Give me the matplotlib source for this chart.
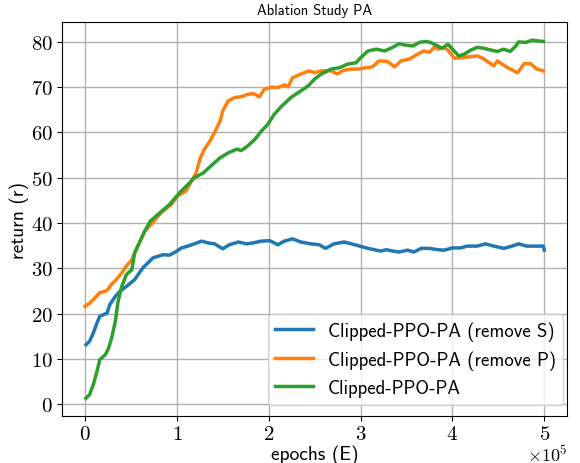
import matplotlib
matplotlib.use("Agg")
import matplotlib.pyplot as plt
import matplotlib.transforms as mtransforms
import numpy as np

# epochs in units of 1e5, returns
x_s = [0.01, 0.05, 0.09, 0.13, 0.16, 0.24, 0.27, 0.33, 0.38, 0.45, 0.54, 0.63, 0.74,
       0.85, 0.92, 1.00, 1.05, 1.12, 1.19, 1.27, 1.34, 1.41, 1.50, 1.57, 1.67, 1.76,
       1.83, 1.92, 2.01, 2.10, 2.17, 2.26, 2.35, 2.46, 2.55, 2.62, 2.71, 2.82, 2.90,
       2.99, 3.08, 3.15, 3.22, 3.28, 3.35, 3.42, 3.51, 3.58, 3.66, 3.75, 3.84, 3.91,
       4.00, 4.09, 4.16, 4.27, 4.36, 4.45, 4.56, 4.65, 4.72, 4.81, 4.92, 4.99, 5.00]
y_s = [13.1, 13.9, 15.7, 17.9, 19.4, 20.1, 22.0, 23.8, 24.9, 26.0, 27.5, 30.1, 32.3,
       33.0, 32.9, 33.8, 34.5, 34.9, 35.4, 36.0, 35.6, 35.4, 34.3, 35.2, 35.8, 35.4,
       35.6, 36.0, 36.1, 35.2, 36.0, 36.5, 35.8, 35.4, 35.2, 34.4, 35.4, 35.8, 35.4,
       34.9, 34.4, 34.1, 33.8, 34.1, 33.8, 33.6, 34.0, 33.6, 34.4, 34.4, 34.1, 34.0,
       34.5, 34.5, 34.9, 34.9, 35.4, 34.9, 34.4, 34.9, 35.4, 34.9, 34.9, 34.9, 34.0]

x_p = [0.00, 0.05, 0.11, 0.16, 0.24, 0.29, 0.34, 0.40, 0.45, 0.51, 0.54, 0.60, 0.65,
       0.72, 0.83, 0.94, 1.01, 1.10, 1.16, 1.21, 1.25, 1.30, 1.36, 1.41, 1.47, 1.50,
       1.56, 1.63, 1.70, 1.77, 1.83, 1.90, 1.95, 2.03, 2.10, 2.17, 2.21, 2.26, 2.35,
       2.44, 2.50, 2.57, 2.68, 2.75, 2.81, 2.90, 2.97, 3.06, 3.13, 3.20, 3.29, 3.37,
       3.44, 3.53, 3.62, 3.69, 3.75, 3.80, 3.85, 3.91, 3.96, 4.02, 4.09, 4.18, 4.27,
       4.33, 4.40, 4.45, 4.49, 4.54, 4.61, 4.71, 4.78, 4.85, 4.92, 4.99]
y_p = [21.6, 22.3, 23.5, 24.6, 25.1, 26.5, 27.5, 29.0, 30.5, 31.9, 33.4, 36.0, 38.2,
       39.7, 42.3, 44.1, 46.0, 47.1, 49.3, 51.1, 54.1, 56.3, 58.1, 60.0, 62.5, 64.8,
       67.0, 67.7, 67.9, 68.4, 68.6, 67.9, 69.5, 70.0, 69.9, 70.5, 70.1, 72.1, 72.9,
       73.6, 73.2, 73.6, 73.6, 72.9, 73.7, 74.0, 74.0, 74.3, 74.5, 75.8, 75.7, 74.5,
       75.8, 76.2, 77.3, 78.0, 77.7, 78.8, 78.4, 78.8, 78.0, 76.4, 76.5, 76.7, 76.9,
       76.4, 75.4, 74.7, 75.8, 75.1, 74.2, 73.2, 75.2, 75.2, 74.0, 73.6]

x_full = [0.01, 0.05, 0.09, 0.13, 0.16, 0.22, 0.25, 0.29, 0.33, 0.36, 0.40, 0.45, 0.51,
          0.54, 0.60, 0.65, 0.71, 0.80, 0.92, 1.03, 1.12, 1.19, 1.29, 1.38, 1.47, 1.56,
          1.65, 1.70, 1.77, 1.85, 1.92, 1.99, 2.06, 2.14, 2.24, 2.35, 2.43, 2.50, 2.57,
          2.68, 2.77, 2.86, 2.95, 3.00, 3.08, 3.17, 3.26, 3.35, 3.42, 3.49, 3.57, 3.64,
          3.71, 3.76, 3.84, 3.89, 3.95, 4.00, 4.07, 4.13, 4.20, 4.27, 4.34, 4.42, 4.49,
          4.56, 4.63, 4.69, 4.72, 4.80, 4.87, 4.94, 4.99]
y_full = [1.3, 2.1, 4.3, 7.2, 9.8, 10.9, 12.0, 14.6, 18.3, 22.7, 26.0, 28.6, 29.7,
          33.4, 36.0, 38.2, 40.4, 42.0, 44.1, 46.7, 48.5, 50.0, 51.1, 52.8, 54.4, 55.5,
          56.3, 56.0, 57.0, 58.5, 60.3, 61.8, 64.0, 65.8, 67.7, 69.2, 70.3, 71.8, 72.9,
          74.0, 74.3, 75.1, 75.4, 76.5, 78.0, 78.4, 78.0, 78.8, 79.6, 79.3, 79.1, 79.9,
          80.1, 79.9, 79.1, 78.6, 79.5, 78.4, 76.9, 77.3, 78.2, 78.8, 78.6, 78.2, 77.9,
          78.4, 77.9, 79.1, 80.0, 79.9, 80.4, 80.2, 80.1]

labels = ['Clipped-PPO-PA (remove S)', 'Clipped-PPO-PA (remove P)', 'Clipped-PPO-PA']

plt.rcParams['mathtext.fontset'] = 'cm'
plt.rcParams['axes.formatter.use_mathtext'] = True
plt.rcParams['font.family'] = ['cmss10', 'DejaVu Sans']
plt.rcParams['axes.unicode_minus'] = False

fig = plt.figure(figsize=(5.8, 4.64), dpi=100)
ax = fig.add_axes([0.107, 0.101, 0.871, 0.849])

for xs, ys, lab in zip([x_s, x_p, x_full], [y_s, y_p, y_full], labels):
    ax.plot(np.array(xs) * 1e5, ys, lw=2.5, label=lab)

ax.ticklabel_format(style='sci', axis='x', scilimits=(0, 0))
ax.grid(True, color='#b0b0b0', lw=1.0)
ax.set_axisbelow(True)
ax.tick_params(labelsize=15, labelfontfamily='cmr10', pad=3)

# x10^5 offset: a bit smaller and nudged up so it stays inside the figure
off = ax.xaxis.get_offset_text()
off.set_fontsize(13)
off.set_fontfamily('cmr10')
off.set_transform(off.get_transform() +
                  mtransforms.ScaledTranslation(0, 4 / 100, fig.dpi_scale_trans))

ax.set_xlabel('epochs (E)', fontsize=14, labelpad=1)
ax.set_ylabel('return (r)', fontsize=14, labelpad=1.5)
ax.set_title('Ablation Study PA', fontsize=10.5)
ax.legend(loc='lower right', fontsize=13.5, bbox_to_anchor=(1.0, 0.02), borderaxespad=0.2)

fig.savefig('out.png', dpi=100)
